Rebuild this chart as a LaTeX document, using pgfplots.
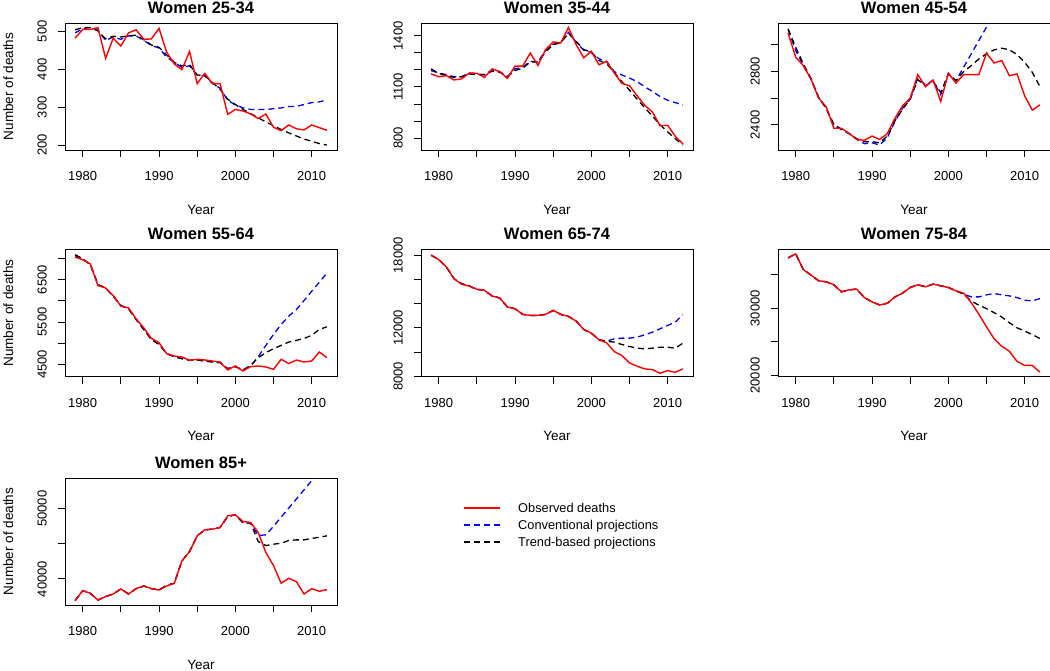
\documentclass[border=0pt]{standalone}
\usepackage{fontspec}
\setmainfont{Liberation Sans}
\usepackage{pgfplots}
\usepackage{pgfplotstable}
\pgfplotsset{compat=1.18}

% year observed conventional trend
\pgfplotstableread{
year obs conv trend
1979 482 496 504
1980 505 507 510
1981 505 510 510
1982 510 503 501
1983 429 476 480
1984 482 485 487
1985 461 479 485
1986 496 488 488
1987 504 488 490
1988 479 476 478
1989 480 463 464
1990 508 456 458
1991 445 432 438
1992 414 418 418
1993 399 405 409
1994 447 409 412
1995 362 385 385
1996 389 383 383
1997 362 363 365
1998 362 350 347
1999 281 318 321
2000 294 306 307
2001 290 298 294
2002 282 294 283
2003 270 294 272
2004 282 294 261
2005 247 296 251
2006 238 298 241
2007 253 302 232
2008 243 302 224
2009 240 307 216
2010 253 312 210
2011 246 314 204
2012 239 319 200
}\tA

\pgfplotstableread{
year obs conv trend
1979 1176 1196 1206
1980 1160 1182 1180
1981 1166 1172 1166
1982 1141 1160 1156
1983 1147 1160 1160
1984 1182 1182 1176
1985 1180 1176 1172
1986 1156 1172 1172
1987 1206 1200 1192
1988 1190 1190 1186
1989 1150 1160 1160
1990 1222 1206 1196
1991 1222 1216 1210
1992 1299 1250 1246
1993 1226 1246 1246
1994 1319 1315 1305
1995 1364 1350 1349
1996 1358 1360 1360
1997 1448 1420 1414
1998 1349 1364 1368
1999 1271 1315 1319
2000 1309 1301 1305
2001 1230 1265 1255
2002 1250 1250 1236
2003 1182 1190 1186
2004 1121 1170 1131
2005 1107 1152 1081
2006 1048 1131 1028
2007 992 1101 978
2008 953 1073 929
2009 873 1044 879
2010 875 1022 836
2011 810 1008 796
2012 766 994 760
}\tB

\pgfplotstableread{
year obs conv trend
1979 3085 3110 3117
1980 2905 2955 2980
1981 2842 2842 2855
1982 2742 2742 2747
1983 2600 2605 2605
1984 2535 2525 2522
1985 2375 2392 2405
1986 2375 2367 2367
1987 2337 2335 2335
1988 2292 2292 2297
1989 2285 2260 2275
1990 2317 2267 2275
1991 2292 2250 2267
1992 2335 2305 2317
1993 2450 2425 2430
1994 2542 2525 2517
1995 2600 2592 2592
1996 2775 2750 2737
1997 2685 2700 2692
1998 2735 2730 2725
1999 2575 2625 2642
2000 2785 2785 2780
2001 2712 2730 2730
2002 2775 2830 2797
2003 2775 2930 2842
2004 2775 3030 2892
2005 2935 3130 2930
2006 2862 3230 2960
2007 2880 3330 2972
2008 2767 3430 2960
2009 2780 3530 2925
2010 2617 3630 2867
2011 2510 3730 2792
2012 2550 3830 2685
}\tC

\pgfplotstableread{
year obs conv trend
1979 7033 7065 7088
1980 6970 6994 6994
1981 6869 6853 6853
1982 6359 6382 6382
1983 6304 6304 6304
1984 6124 6108 6108
1985 5873 5888 5888
1986 5833 5810 5810
1987 5574 5559 5559
1988 5363 5324 5324
1989 5112 5088 5088
1990 5010 4971 4971
1991 4751 4751 4751
1992 4696 4680 4680
1993 4673 4633 4633
1994 4594 4594 4594
1995 4618 4602 4602
1996 4602 4578 4578
1997 4578 4555 4555
1998 4555 4539 4539
1999 4367 4398 4398
2000 4461 4445 4445
2001 4343 4367 4367
2002 4445 4461 4476
2003 4461 4680 4657
2004 4437 4947 4775
2005 4382 5206 4869
2006 4618 5441 4947
2007 4516 5637 5025
2008 4602 5794 5065
2009 4555 6006 5112
2010 4578 6225 5182
2011 4790 6437 5324
2012 4657 6657 5386
}\tD

\pgfplotstableread{
year obs conv trend
1979 18000 18000 18000
1980 17640 17640 17640
1981 17032 17032 17032
1982 16065 16065 16065
1983 15595 15650 15650
1984 15457 15457 15457
1985 15181 15181 15181
1986 15098 15098 15098
1987 14629 14629 14629
1988 14463 14463 14463
1989 13717 13717 13717
1990 13579 13579 13579
1991 13110 13110 13110
1992 13027 13027 13027
1993 13027 13027 13027
1994 13110 13110 13110
1995 13441 13441 13441
1996 13110 13110 13110
1997 12944 12944 12944
1998 12557 12557 12557
1999 11867 11867 11867
2000 11563 11563 11563
2001 11011 11011 11011
2002 10762 10900 10900
2003 10044 11093 10817
2004 9712 11149 10624
2005 9105 11149 10458
2006 8829 11232 10320
2007 8608 11425 10265
2008 8552 11646 10320
2009 8249 11922 10403
2010 8470 12198 10403
2011 8331 12474 10320
2012 8608 13082 10734
}\tE

\pgfplotstableread{
year obs conv trend
1979 37500 37500 37500
1980 38100 38100 38100
1981 35750 35750 35750
1982 34950 34950 34950
1983 34100 34100 34100
1984 33950 33950 33950
1985 33500 33500 33500
1986 32450 32450 32450
1987 32750 32750 32750
1988 32850 32850 32850
1989 31600 31600 31600
1990 30950 30950 30950
1991 30500 30500 30500
1992 30750 30750 30750
1993 31700 31700 31700
1994 32250 32250 32250
1995 33100 33100 33100
1996 33500 33500 33500
1997 33200 33200 33200
1998 33600 33600 33600
1999 33350 33350 33350
2000 33100 33100 33100
2001 32600 32600 32600
2002 32250 32100 32100
2003 30850 31700 31100
2004 29100 31700 30450
2005 27250 32000 29950
2006 25450 32200 29350
2007 24350 32000 28700
2008 23600 31850 27850
2009 22100 31600 27100
2010 21500 31200 26600
2011 21500 31100 26100
2012 20500 31450 25500
}\tF

\pgfplotstableread{
year obs conv trend
1979 36905 36905 36905
1980 38333 38333 38333
1981 37952 37952 37952
1982 37000 37000 37000
1983 37476 37476 37476
1984 37857 37857 37857
1985 38571 38571 38571
1986 37857 37857 37857
1987 38619 38619 38619
1988 39000 39000 39000
1989 38619 38619 38619
1990 38429 38429 38429
1991 39000 39100 39100
1992 39381 39381 39381
1993 42571 42571 42571
1994 43905 43905 43905
1995 46143 46143 46143
1996 47000 47000 47000
1997 47095 47095 47095
1998 47333 47333 47333
1999 49000 48900 48900
2000 49143 49143 49143
2001 48190 48000 48000
2002 48048 47952 47952
2003 46619 46190 45333
2004 43762 46286 44762
2005 41905 47500 44952
2006 39381 48800 45095
2007 40095 50100 45476
2008 39619 51400 45571
2009 37857 52700 45571
2010 38619 54000 45762
2011 38238 55300 45952
2012 38476 56600 46143
}\tG

\pgfplotsset{
  panel/.style={
    scale only axis, width=272pt, height=127pt,
    xmin=1977.68, xmax=2013.32,
    axis line style={line width=0.9pt},
    tick align=outside, tick pos=left,
    major tick length=7pt,
    every tick/.style={black, line width=0.9pt},
    xtick={1980,1985,...,2010},
    xticklabels={1980,,1990,,2000,,2010},
    scaled y ticks=false,
    tick label style={font=\fontsize{13}{15}\selectfont},
    xticklabel style={anchor=base},
    xticklabel shift=23.7pt,
    yticklabel style={rotate=90, anchor=base},
    yticklabel shift=11.3pt,
    xlabel={Year},
    xlabel style={at={(0.5,0)}, anchor=base, yshift=-64pt, font=\fontsize{13.5}{16}\selectfont},
    ylabel style={at={(-0.191,0.5)}, anchor=base, font=\fontsize{13.5}{16}\selectfont},
    title style={at={(0.5,1)}, anchor=base, yshift=4pt, font=\bfseries\fontsize{16.5}{19}\selectfont},
    clip=true,
  },
}

\begin{document}
\begin{tikzpicture}
\useasboundingbox (0,0) rectangle (1050pt,-670pt);

% Row 1
\begin{axis}[panel, at={(65pt,-23pt)}, anchor=north west,
  title={Women 25-34}, ylabel={Number of deaths},
  ymin=187, ymax=522, ytick={200,300,400,500}, yticklabels={200,300,400,500}]
\addplot[color=blue, line width=1.3pt, dash pattern=on 6pt off 4pt] table[x=year,y=conv]{\tA};
\addplot[color=black, line width=1.3pt, dash pattern=on 6pt off 4pt] table[x=year,y=trend]{\tA};
\addplot[color=red, line width=1.4pt] table[x=year,y=obs]{\tA};
\end{axis}

\begin{axis}[panel, at={(421pt,-23pt)}, anchor=north west,
  title={Women 35-44},
  ymin=730, ymax=1475, ytick={800,900,...,1400}, yticklabels={800,,,1100,,,1400}]
\addplot[color=blue, line width=1.3pt, dash pattern=on 6pt off 4pt] table[x=year,y=conv]{\tB};
\addplot[color=black, line width=1.3pt, dash pattern=on 6pt off 4pt] table[x=year,y=trend]{\tB};
\addplot[color=red, line width=1.4pt] table[x=year,y=obs]{\tB};
\end{axis}

\begin{axis}[panel, at={(778pt,-23pt)}, anchor=north west,
  title={Women 45-54},
  ymin=2213, ymax=3160, ytick={2400,2600,2800,3000}, yticklabels={2400,,2800,}]
\addplot[color=blue, line width=1.3pt, dash pattern=on 6pt off 4pt] table[x=year,y=conv]{\tC};
\addplot[color=black, line width=1.3pt, dash pattern=on 6pt off 4pt] table[x=year,y=trend]{\tC};
\addplot[color=red, line width=1.4pt] table[x=year,y=obs]{\tC};
\end{axis}

% Row 2
\begin{axis}[panel, at={(65pt,-249.5pt)}, anchor=north west,
  title={Women 55-64}, ylabel={Number of deaths},
  ymin=4212, ymax=7211, ytick={4500,5000,...,7000}, yticklabels={4500,,5500,,6500,}]
\addplot[color=blue, line width=1.3pt, dash pattern=on 6pt off 4pt] table[x=year,y=conv]{\tD};
\addplot[color=black, line width=1.3pt, dash pattern=on 6pt off 4pt] table[x=year,y=trend]{\tD};
\addplot[color=red, line width=1.4pt] table[x=year,y=obs]{\tD};
\end{axis}

\begin{axis}[panel, at={(421pt,-249.5pt)}, anchor=north west,
  title={Women 65-74},
  ymin=7980, ymax=18470, ytick={8000,10000,...,18000}, yticklabels={8000,,12000,,,18000}]
\addplot[color=blue, line width=1.3pt, dash pattern=on 6pt off 4pt] table[x=year,y=conv]{\tE};
\addplot[color=black, line width=1.3pt, dash pattern=on 6pt off 4pt] table[x=year,y=trend]{\tE};
\addplot[color=red, line width=1.4pt] table[x=year,y=obs]{\tE};
\end{axis}

\begin{axis}[panel, at={(778pt,-249.5pt)}, anchor=north west,
  title={Women 75-84},
  ymin=19850, ymax=38750, ytick={20000,25000,30000,35000}, yticklabels={20000,,30000,}]
\addplot[color=blue, line width=1.3pt, dash pattern=on 6pt off 4pt] table[x=year,y=conv]{\tF};
\addplot[color=black, line width=1.3pt, dash pattern=on 6pt off 4pt] table[x=year,y=trend]{\tF};
\addplot[color=red, line width=1.4pt] table[x=year,y=obs]{\tF};
\end{axis}

% Row 3
\begin{axis}[panel, at={(65pt,-478pt)}, anchor=north west,
  title={Women 85+}, ylabel={Number of deaths},
  ymin=36286, ymax=54386, ytick={40000,45000,50000}, yticklabels={40000,,50000}]
\addplot[color=blue, line width=1.3pt, dash pattern=on 6pt off 4pt] table[x=year,y=conv]{\tG};
\addplot[color=black, line width=1.3pt, dash pattern=on 6pt off 4pt] table[x=year,y=trend]{\tG};
\addplot[color=red, line width=1.4pt] table[x=year,y=obs]{\tG};
\end{axis}

% Legend (hidden axis)
\begin{axis}[at={(462pt,-500pt)}, anchor=north west, scale only axis,
  width=200pt, height=50pt, xmin=0, xmax=200, ymin=-50, ymax=0,
  hide axis, clip=false]
\addplot[color=red, line width=1.4pt] coordinates {(2,-8) (38,-8)};
\addplot[color=blue, line width=1.3pt, dash pattern=on 6pt off 4pt] coordinates {(2,-25) (38,-25)};
\addplot[color=black, line width=1.3pt, dash pattern=on 6pt off 4pt] coordinates {(2,-42) (38,-42)};
\node[anchor=base west, inner sep=0pt, yshift=-4.6pt, font=\fontsize{12.8}{14}\selectfont] at (axis cs:56,-8) {Observed deaths};
\node[anchor=base west, inner sep=0pt, yshift=-4.6pt, font=\fontsize{12.8}{14}\selectfont] at (axis cs:56,-25) {Conventional projections};
\node[anchor=base west, inner sep=0pt, yshift=-4.6pt, font=\fontsize{12.8}{14}\selectfont] at (axis cs:56,-42) {Trend-based projections};
\end{axis}
\end{tikzpicture}
\end{document}
